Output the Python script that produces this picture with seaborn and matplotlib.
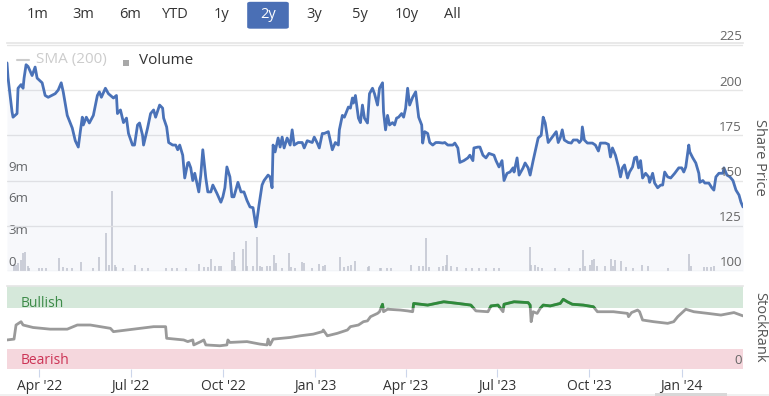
import matplotlib
matplotlib.use("Agg")
import matplotlib.pyplot as plt
import matplotlib.patches as mpatches
import matplotlib.lines as mlines
import numpy as np
import pandas as pd
import seaborn as sns

# ---------------- data ----------------
price_dates = [
    "2022-02-28", "2022-03-01", "2022-03-05", "2022-03-06", "2022-03-10", "2022-03-11", "2022-03-14", "2022-03-16",
    "2022-03-17", "2022-03-19", "2022-03-21", "2022-03-25", "2022-03-28", "2022-03-30", "2022-04-04", "2022-04-07",
    "2022-04-10", "2022-04-17", "2022-04-20", "2022-04-23", "2022-04-25", "2022-04-29", "2022-05-04", "2022-05-07",
    "2022-05-10", "2022-05-12", "2022-05-14", "2022-05-15", "2022-05-18", "2022-05-21", "2022-05-25", "2022-05-29",
    "2022-05-31", "2022-06-02", "2022-06-06", "2022-06-09", "2022-06-14", "2022-06-17", "2022-06-18", "2022-06-21",
    "2022-06-24", "2022-06-27", "2022-06-29", "2022-07-03", "2022-07-05", "2022-07-08", "2022-07-10", "2022-07-13",
    "2022-07-14", "2022-07-18", "2022-07-21", "2022-07-24", "2022-07-26", "2022-07-30", "2022-08-02", "2022-08-03",
    "2022-08-06", "2022-08-08", "2022-08-12", "2022-08-15", "2022-08-17", "2022-08-19", "2022-08-22", "2022-08-24",
    "2022-08-27", "2022-08-28", "2022-08-30", "2022-09-01", "2022-09-03", "2022-09-07", "2022-09-09", "2022-09-11",
    "2022-09-14", "2022-09-16", "2022-09-19", "2022-09-21", "2022-09-25", "2022-09-29", "2022-10-01", "2022-10-03",
    "2022-10-05", "2022-10-08", "2022-10-10", "2022-10-12", "2022-10-16", "2022-10-19", "2022-10-22", "2022-10-25",
    "2022-10-28", "2022-10-31", "2022-11-03", "2022-11-06", "2022-11-09", "2022-11-11", "2022-11-15", "2022-11-17",
    "2022-11-19", "2022-11-20", "2022-11-22", "2022-11-25", "2022-11-27", "2022-11-29", "2022-12-01", "2022-12-04",
    "2022-12-07", "2022-12-09", "2022-12-11", "2022-12-15", "2022-12-19", "2022-12-21", "2022-12-24", "2022-12-29",
    "2022-12-31", "2023-01-03", "2023-01-05", "2023-01-08", "2023-01-10", "2023-01-14", "2023-01-17", "2023-01-18",
    "2023-01-21", "2023-01-24", "2023-01-25", "2023-01-28", "2023-01-30", "2023-02-03", "2023-02-05", "2023-02-07",
    "2023-02-08", "2023-02-10", "2023-02-13", "2023-02-15", "2023-02-17", "2023-02-19", "2023-02-22", "2023-02-24",
    "2023-02-27", "2023-03-01", "2023-03-04", "2023-03-06", "2023-03-09", "2023-03-10", "2023-03-12", "2023-03-14",
    "2023-03-16", "2023-03-19", "2023-03-21", "2023-03-23", "2023-03-25", "2023-03-28", "2023-03-30", "2023-04-01",
    "2023-04-03", "2023-04-05", "2023-04-08", "2023-04-11", "2023-04-14", "2023-04-17", "2023-04-18", "2023-04-20",
    "2023-04-23", "2023-04-25", "2023-04-28", "2023-05-01", "2023-05-04", "2023-05-08", "2023-05-10", "2023-05-13",
    "2023-05-18", "2023-05-20", "2023-05-23", "2023-05-25", "2023-05-29", "2023-06-02", "2023-06-04", "2023-06-07",
    "2023-06-08", "2023-06-12", "2023-06-14", "2023-06-17", "2023-06-20", "2023-06-23", "2023-06-28", "2023-06-30",
    "2023-07-03", "2023-07-06", "2023-07-08", "2023-07-11", "2023-07-14", "2023-07-17", "2023-07-18", "2023-07-21",
    "2023-07-23", "2023-07-27", "2023-07-29", "2023-08-01", "2023-08-03", "2023-08-06", "2023-08-09", "2023-08-11",
    "2023-08-14", "2023-08-16", "2023-08-18", "2023-08-21", "2023-08-25", "2023-08-29", "2023-08-31", "2023-09-02",
    "2023-09-04", "2023-09-06", "2023-09-10", "2023-09-13", "2023-09-15", "2023-09-19", "2023-09-21", "2023-09-23",
    "2023-09-24", "2023-09-26", "2023-09-29", "2023-10-04", "2023-10-07", "2023-10-10", "2023-10-12", "2023-10-17",
    "2023-10-20", "2023-10-22", "2023-10-24", "2023-10-27", "2023-10-30", "2023-11-01", "2023-11-03", "2023-11-05",
    "2023-11-08", "2023-11-10", "2023-11-13", "2023-11-15", "2023-11-17", "2023-11-19", "2023-11-21", "2023-11-23",
    "2023-11-26", "2023-11-29", "2023-11-30", "2023-12-03", "2023-12-05", "2023-12-08", "2023-12-11", "2023-12-13",
    "2023-12-15", "2023-12-18", "2023-12-21", "2023-12-25", "2023-12-29", "2024-01-01", "2024-01-03", "2024-01-05",
    "2024-01-08", "2024-01-09", "2024-01-12", "2024-01-15", "2024-01-18", "2024-01-19", "2024-01-22", "2024-01-24",
    "2024-01-28", "2024-01-31", "2024-02-02", "2024-02-04", "2024-02-07", "2024-02-11", "2024-02-12", "2024-02-15",
    "2024-02-18", "2024-02-21", "2024-02-24", "2024-02-27", "2024-02-29", "2024-03-02",
]
price_values = [
    215, 207, 188, 185, 187, 201, 203, 201,
    206.6, 214, 213, 208, 212.7, 206.6, 204, 197,
    196, 198, 200, 204, 199, 186, 179, 172,
    168.5, 177, 185, 180.7, 185, 181.8, 186, 197,
    199, 196, 201, 198, 195.6, 197, 187, 189,
    182, 184.5, 176, 169.6, 169.6, 180.7, 181.8, 175,
    169.6, 179, 187, 189, 185, 191.7, 190, 184.5,
    179.6, 171, 169.6, 169.6, 167, 169.6, 164, 151.4,
    159.7, 160, 157, 150, 154, 143.7, 153, 167,
    151.4, 143.7, 143.7, 147.5, 143, 138, 141, 146,
    157.5, 152, 141, 141, 149, 143.7, 143.7, 139,
    135.4, 135, 124.4, 136.5, 147.5, 150, 153, 152,
    146, 169.6, 165.8, 173.5, 168.5, 174, 168, 173.5,
    169.6, 178, 169.6, 171, 171, 168, 172, 171,
    174, 170.7, 168, 176, 176, 177, 169.6, 167,
    171, 169.6, 178, 186, 185, 190.6, 190, 195.6,
    192.8, 197, 184.5, 182, 191.7, 184.5, 181.8, 198,
    201, 198, 191.7, 201, 204, 188, 178, 186,
    180.7, 182, 180.7, 184.5, 185, 187, 185, 190,
    201, 191.7, 196, 199, 185, 180.7, 170.7, 177,
    176, 171, 169.6, 171, 171, 170.7, 171, 169.6,
    169.6, 170.7, 168, 160, 161, 162.5, 164, 161,
    168, 168.5, 168.5, 164, 162.5, 165, 164, 161,
    157.5, 161, 150, 154, 154.7, 157, 154.7, 162.5,
    153, 157, 159.7, 157, 153, 161, 168.5, 173.5,
    175, 185, 181.8, 171, 174, 177, 171, 173.5,
    178, 172.4, 171, 170.7, 172.4, 172.4, 171, 172.4,
    179.6, 172.4, 170.7, 170.7, 169.6, 166.3, 170.7, 170.7,
    170, 163, 168, 164, 157.5, 152, 157, 158.6,
    151.4, 154.7, 157.5, 162.5, 163, 157, 161, 151.4,
    154, 152, 149, 154, 148.6, 146, 147.5, 147.5,
    154.7, 152, 151.4, 154, 157, 157, 154.7, 157.5,
    169.6, 165.8, 162.5, 159.7, 154, 149, 150, 148.6,
    148.6, 146, 144.7, 152, 154, 154, 157, 153,
    152, 150, 144.7, 142, 138, 135.4,
]

volume_dates = [
    "2022-03-07", "2022-03-09", "2022-03-11", "2022-03-14", "2022-03-16", "2022-03-18", "2022-03-21", "2022-03-22",
    "2022-04-01", "2022-04-04", "2022-04-08", "2022-04-21", "2022-04-25", "2022-04-29", "2022-05-04", "2022-05-13",
    "2022-05-25", "2022-05-31", "2022-06-07", "2022-06-10", "2022-06-13", "2022-06-16", "2022-06-17", "2022-06-24",
    "2022-07-05", "2022-07-12", "2022-07-18", "2022-08-05", "2022-08-11", "2022-08-16", "2022-08-25", "2022-09-07",
    "2022-09-12", "2022-09-16", "2022-09-19", "2022-09-23", "2022-09-27", "2022-09-29", "2022-10-10", "2022-10-12",
    "2022-10-13", "2022-10-21", "2022-10-24", "2022-10-25", "2022-10-31", "2022-11-04", "2022-11-07", "2022-11-09",
    "2022-11-14", "2022-11-17", "2022-11-21", "2022-11-23", "2022-11-29", "2022-12-06", "2022-12-08", "2022-12-12",
    "2022-12-19", "2022-12-21", "2022-12-29", "2023-01-05", "2023-01-09", "2023-01-11", "2023-01-26", "2023-01-30",
    "2023-02-03", "2023-02-06", "2023-02-10", "2023-02-23", "2023-02-24", "2023-03-06", "2023-03-07", "2023-03-13",
    "2023-03-17", "2023-04-06", "2023-04-14", "2023-04-18", "2023-04-21", "2023-04-24", "2023-05-04", "2023-05-08",
    "2023-05-11", "2023-05-12", "2023-05-16", "2023-05-22", "2023-05-31", "2023-06-06", "2023-06-13", "2023-06-20",
    "2023-06-28", "2023-07-03", "2023-08-03", "2023-08-04", "2023-08-08", "2023-08-11", "2023-08-15", "2023-08-28",
    "2023-09-11", "2023-09-22", "2023-09-25", "2023-09-27", "2023-10-02", "2023-10-04", "2023-10-06", "2023-10-09",
    "2023-10-17", "2023-10-23", "2023-10-25", "2023-10-27", "2023-11-01", "2023-11-06", "2023-11-13", "2023-11-22",
    "2023-11-28", "2023-12-18", "2024-01-08", "2024-01-10", "2024-01-23", "2024-01-26", "2024-01-30", "2024-02-02",
]
volume_values = [  # millions of shares
    0.65, 0.6, 0.75, 1.0, 1.75, 1.8, 0.45, 0.3,
    0.25, 0.25, 0.25, 1.2, 0.35, 0.25, 0.25, 0.9,
    0.25, 1.3, 3.6, 0.6, 7.6, 0.55, 0.35, 0.25,
    0.6, 0.25, 0.25, 0.25, 0.25, 0.25, 0.25, 0.7,
    0.35, 0.35, 1.1, 0.5, 0.45, 0.5, 1.0, 1.85,
    0.45, 2.1, 2.9, 0.45, 0.45, 3.2, 0.5, 0.4,
    0.45, 0.45, 1.5, 0.8, 0.25, 1.7, 0.4, 0.3,
    0.9, 0.8, 0.25, 0.7, 0.5, 0.55, 1.3, 0.4,
    0.5, 0.6, 0.95, 0.4, 0.5, 0.25, 0.3, 0.3,
    0.25, 0.6, 0.5, 0.5, 3.1, 0.35, 0.4, 0.5,
    0.6, 1.5, 0.5, 0.35, 0.25, 0.25, 0.25, 0.25,
    0.25, 0.25, 2.3, 0.6, 0.6, 0.35, 0.25, 0.25,
    0.25, 0.25, 2.0, 0.45, 0.6, 1.0, 1.1, 0.45,
    0.45, 1.1, 0.45, 1.0, 0.95, 0.35, 0.25, 0.6,
    0.45, 0.25, 1.6, 0.45, 0.35, 0.35, 0.4, 0.45,
]

rank_dates = [
    "2022-02-28", "2022-03-07", "2022-03-09", "2022-03-14", "2022-03-16", "2022-03-26", "2022-04-12", "2022-04-29",
    "2022-05-09", "2022-05-22", "2022-06-01", "2022-06-11", "2022-06-14", "2022-07-04", "2022-07-24", "2022-08-05",
    "2022-08-06", "2022-08-23", "2022-08-27", "2022-09-01", "2022-09-02", "2022-09-09", "2022-09-12", "2022-09-14",
    "2022-09-28", "2022-10-05", "2022-10-06", "2022-10-08", "2022-10-25", "2022-11-07", "2022-11-14", "2022-11-15",
    "2022-11-17", "2022-11-20", "2022-12-07", "2022-12-17", "2022-12-30", "2023-01-08", "2023-01-09", "2023-01-13",
    "2023-01-23", "2023-02-02", "2023-02-05", "2023-02-13", "2023-02-18", "2023-02-22", "2023-02-25", "2023-03-04",
    "2023-03-06", "2023-03-09", "2023-03-10", "2023-03-14", "2023-03-27", "2023-04-03", "2023-04-08", "2023-04-09",
    "2023-04-23", "2023-05-09", "2023-05-23", "2023-06-05", "2023-06-10", "2023-06-22", "2023-06-25", "2023-07-02",
    "2023-07-07", "2023-07-08", "2023-07-18", "2023-08-01", "2023-08-03", "2023-08-04", "2023-08-06", "2023-08-10",
    "2023-08-13", "2023-08-16", "2023-08-23", "2023-09-02", "2023-09-05", "2023-09-09", "2023-09-14", "2023-09-25",
    "2023-10-05", "2023-10-09", "2023-10-25", "2023-11-08", "2023-11-09", "2023-11-12", "2023-11-18", "2023-11-20",
    "2023-11-23", "2023-12-04", "2023-12-18", "2023-12-24", "2023-12-28", "2024-01-05", "2024-01-13", "2024-01-27",
    "2024-02-09", "2024-02-22", "2024-03-02",
]
rank_values = [
    35, 36, 53, 57, 53, 50, 48, 48,
    53, 53, 51, 49, 45, 48, 51, 51,
    37, 35, 33, 35, 29, 33, 35, 29,
    28, 29, 35, 32, 33, 30, 29, 36,
    29, 36, 38, 40, 42, 45, 47, 40,
    43, 47, 51, 53, 57, 58, 63, 67,
    69, 78, 69, 72, 71, 70, 69, 79,
    77, 81, 79, 77, 70, 69, 76, 77,
    69, 78, 81, 80, 77, 57, 69, 67,
    73, 77, 76, 79, 84, 81, 78, 77,
    75, 69, 69, 67, 63, 68, 71, 69,
    59, 57, 55, 57, 63, 72, 69, 67,
    65, 68, 64,
]

range_buttons = ["1m", "3m", "6m", "YTD", "1y", "2y", "3y", "5y", "10y", "All"]
selected_button = "2y"
price_ticks = [100, 125, 150, 175, 200, 225]
volume_ticks = [0, 3, 6, 9]
volume_tick_labels = ["0", "3m", "6m", "9m"]
date_ticks = ["2022-04-01", "2022-07-01", "2022-10-01", "2023-01-01",
              "2023-04-01", "2023-07-01", "2023-10-01", "2024-01-01"]
date_tick_labels = ["Apr '22", "Jul '22", "Oct '22", "Jan '23",
                    "Apr '23", "Jul '23", "Oct '23", "Jan '24"]
bullish_band = (73.5, 100)
bearish_band = (0, 24)
x_start, x_end = "2022-02-28", "2024-03-02"

# ---------------- style ----------------
sns.set_theme(style="white")
plt.rcParams["font.family"] = ["Open Sans", "DejaVu Sans"]

W, H = 769, 396
fig = plt.figure(figsize=(W / 100, H / 100), dpi=100)
fig.patch.set_facecolor("white")


def fx(px):
    return px / W


def fy(py):
    return 1 - py / H


LEFT, RIGHT = 7, 743
ax_vol = fig.add_axes([fx(LEFT), fy(271), (RIGHT - LEFT) / W, (271 - 43) / H])
ax_price = ax_vol.twinx()
ax_rank = fig.add_axes([fx(LEFT), fy(369), (RIGHT - LEFT) / W, (369 - 286) / H])

pdates = pd.to_datetime(price_dates)
vdates = pd.to_datetime(volume_dates)
rdates = pd.to_datetime(rank_dates)
xlim = (pd.Timestamp(x_start), pd.Timestamp(x_end))

# volume
ax_vol.vlines(vdates, 0, volume_values, color="#c3c6cf", lw=1.1)
ax_vol.set_ylim(0, 21.7)
ax_vol.set_xlim(*xlim)
ax_vol.set_yticks([])
ax_vol.set_xticks([])
ax_vol.set_xlabel("")
ax_vol.set_ylabel("")
for s in ax_vol.spines.values():
    s.set_visible(False)
for v, lab in zip(volume_ticks, volume_tick_labels):
    ax_vol.annotate(lab, xy=(0, v), xycoords=("axes fraction", "data"),
                    xytext=(1, 9), textcoords="offset pixels",
                    ha="left", va="center", color="#666666", fontsize=9.5)

# price
ax_price.fill_between(pdates, price_values, 100, color="#4a72b8", alpha=0.045, lw=0)
sns.lineplot(x=pdates, y=price_values, ax=ax_price, color="#4a72b8", lw=2.0)
ax_price.set_ylim(100, 226)
ax_price.set_xlim(*xlim)
ax_price.set_yticks(price_ticks)
ax_price.yaxis.grid(True, color="#e6e6e6", lw=1)
ax_price.tick_params(axis="y", length=0, labelright=False, labelleft=False)
ax_price.set_ylabel("")
ax_price.set_xlabel("")
for name, s in ax_price.spines.items():
    s.set_visible(name == "top")
    s.set_color("#e6e6e6")
for v in price_ticks:
    ax_price.annotate(str(v), xy=(1, v), xycoords=("axes fraction", "data"),
                      xytext=(-1, 8), textcoords="offset pixels",
                      ha="right", va="center", color="#666666", fontsize=9.5)

# stockrank
ax_rank.set_xlim(*xlim)
ax_rank.set_ylim(0, 100)
ax_rank.axhspan(*bullish_band, color="#d5e8da", lw=0, zorder=0)
ax_rank.axhspan(*bearish_band, color="#f5d7dd", lw=0, zorder=0)
sns.lineplot(x=rdates, y=rank_values, ax=ax_rank, color="#9a9a9a", lw=2.0)
green = ax_rank.plot(rdates, rank_values, color="#2e8b3a", lw=2.0)[0]
clip = mpatches.Rectangle((0, bullish_band[0]), 1, bullish_band[1] - bullish_band[0],
                          transform=ax_rank.get_yaxis_transform(), visible=False)
ax_rank.add_patch(clip)
green.set_clip_path(clip)
ax_rank.set_yticks([])
ax_rank.set_ylabel("")
ax_rank.set_xlabel("")
ax_rank.xaxis.label.set_visible(False)
for name, s in ax_rank.spines.items():
    s.set_visible(name == "top")
    s.set_color("#e6e6e6")
ax_rank.set_xticks(pd.to_datetime(date_ticks))
ax_rank.set_xticklabels(date_tick_labels)
ax_rank.tick_params(axis="x", bottom=True, length=5.5, width=0.8, color="#ccd6eb",
                    pad=2.0, labelcolor="#333333", labelsize=10)
ax_rank.text(0.018, 0.79, "Bullish", transform=ax_rank.transAxes, color="#3d8b48",
             fontsize=10, va="center", ha="left")
ax_rank.text(0.018, 0.10, "Bearish", transform=ax_rank.transAxes, color="#cc3355",
             fontsize=10, va="center", ha="left")
ax_rank.text(0.998, 0.10, "0", transform=ax_rank.transAxes, color="#666666",
             fontsize=9.5, va="center", ha="right")

# axis titles (right side)
fig.text(fx(760), fy(157), "Share Price", rotation=-90, ha="center", va="center",
         color="#555555", fontsize=10.5)
fig.text(fx(760), fy(327), "StockRank", rotation=-90, ha="center", va="center",
         color="#555555", fontsize=10.5)

# range selector
for i, lab in enumerate(range_buttons):
    cx = 37.5 + i * 46.1
    if lab == selected_button:
        fig.patches.append(mpatches.FancyBboxPatch(
            (fx(cx - 18.5), fy(27.5)), 37 / W, 24.5 / H,
            boxstyle="round,pad=0.003,rounding_size=0.004", transform=fig.transFigure,
            facecolor="#4a6fb5", edgecolor="none"))
        col = "white"
    else:
        col = "#333333"
    fig.text(fx(cx), fy(15), lab, ha="center", va="center", color=col, fontsize=10.5)

# legend
fig.lines.append(mlines.Line2D([fx(17), fx(29)], [fy(60), fy(60)], color="#cccccc",
                               lw=1.5, transform=fig.transFigure))
fig.text(fx(36), fy(60), "SMA (200)", ha="left", va="center", color="#cccccc", fontsize=11)
fig.patches.append(mpatches.Rectangle((fx(123), fy(65.5)), 6 / W, 6 / H,
                                      transform=fig.transFigure, facecolor="#a8a8a8",
                                      edgecolor="none"))
fig.text(fx(139), fy(60), "Volume", ha="left", va="center", color="#333333", fontsize=11)

# navigator scrollbar
fig.patches.append(mpatches.Rectangle((fx(0), fy(396)), 1, 2 / H, transform=fig.transFigure,
                                      facecolor="#f0f0f0", edgecolor="none"))
fig.patches.append(mpatches.Rectangle((fx(655), fy(396)), 72 / W, 3 / H,
                                      transform=fig.transFigure, facecolor="#d8d8d8",
                                      edgecolor="none"))

fig.savefig("out.png", dpi=100)
